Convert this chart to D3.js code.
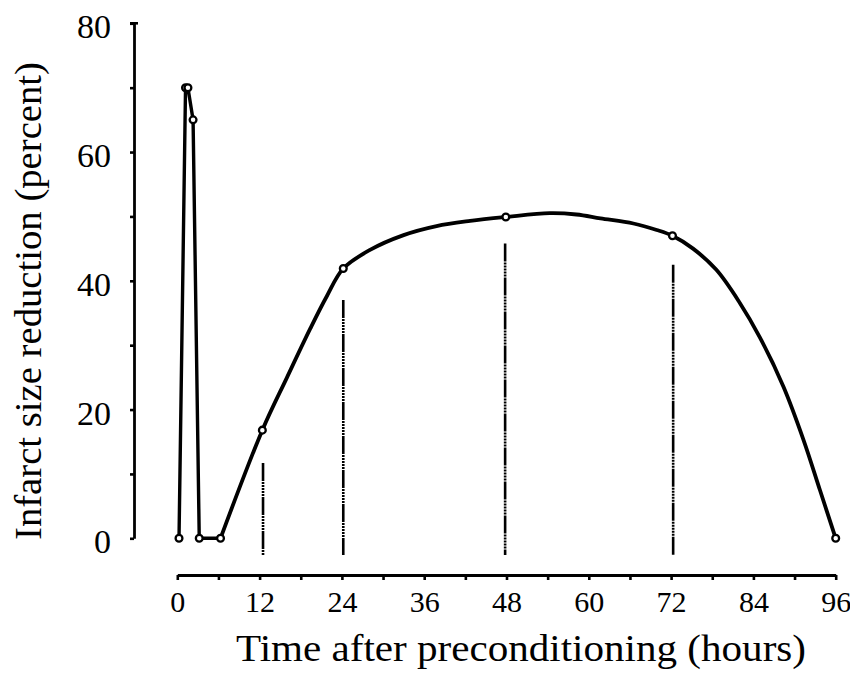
<!DOCTYPE html>
<html>
<head>
<meta charset="utf-8">
<script src="https://cdn.jsdelivr.net/npm/d3@7"></script>
<style>
  body { margin: 0; background: #fff; }
  svg { display: block; font-family: "Liberation Serif", "Times New Roman", serif; }
</style>
</head>
<body>
<div id="chart"></div>
<script>
// first hours: sharp early peak (straight segments)
var earlyHours = [0.25, 1.2, 1.55, 2.3, 3.2, 6.3];
var earlyValues = [0, 70, 70, 65, 0, 0];

// second window: smooth curve as drawn in the figure
var lateHours = [6.3, 12.4, 16, 19.4, 21.8, 24.2, 28.1, 33, 37.8, 42.7, 47.9, 54.3, 58.2, 61.7, 66.5, 69.9, 72.2, 75.2, 78.6, 82, 84.9, 88.4, 91.3, 93.7, 96];
var lateValues = [0, 16.8, 25, 32.6, 37.6, 41.9, 44.8, 47.1, 48.5, 49.3, 49.9, 50.5, 50.3, 49.7, 48.9, 47.9, 47, 45, 41.7, 36.6, 31.3, 23.5, 15.3, 7.5, 0];

// open circles on the late curve
var markHours = [12.4, 24.2, 47.9, 72.2, 96];
var markValues = [16.8, 41.9, 49.9, 47, 0];

// vertical dash-dot bars
var barHours = [12.5, 24.2, 47.8, 72.3];
var barTops = [11.7, 37, 45.8, 42.5];
var barBottom = -2.6;

var xTicks = d3.range(0, 97, 6);
var yTicks = d3.range(0, 81, 10);

var width = 850, height = 673;

var svg = d3.select("#chart").append("svg")
    .attr("width", width)
    .attr("height", height);

var x = d3.scaleLinear().domain([0, 96]).range([177.3, 835.7]);
var y = d3.scaleLinear().domain([0, 80]).range([538.3, 23.3]);

var xAxisY = 575, yAxisX = 134;

// x axis
var gx = svg.append("g")
    .attr("transform", "translate(0," + xAxisY + ")")
    .call(d3.axisBottom(x)
        .tickValues(xTicks)
        .tickSize(5)
        .tickSizeOuter(0)
        .tickFormat(d => d % 12 === 0 ? d : ""));
gx.select(".domain").attr("stroke-width", 3);
gx.selectAll(".tick line").attr("stroke-width", 2.6);
gx.selectAll(".tick text")
    .attr("y", 36.5).attr("dy", 0)
    .attr("font-size", 30).attr("font-family", "Liberation Serif").attr("fill", "#000");

// y axis
var gy = svg.append("g")
    .attr("transform", "translate(" + yAxisX + ",0)")
    .call(d3.axisLeft(y)
        .tickValues(yTicks)
        .tickSize(4)
        .tickSizeOuter(0)
        .tickFormat(d => d % 20 === 0 ? d : ""));
gy.select(".domain").attr("stroke-width", 2.8);
gy.selectAll(".tick line").attr("stroke-width", 2.6);
gy.selectAll(".tick text")
    .attr("x", -23).attr("dy", "0.43em")
    .attr("font-size", 34).attr("font-family", "Liberation Serif").attr("fill", "#000");

// cap on top of the y axis
svg.append("line")
    .attr("x1", yAxisX - 4).attr("x2", yAxisX + 4)
    .attr("y1", y(80)).attr("y2", y(80))
    .attr("stroke", "#000").attr("stroke-width", 2.6);

// axis titles
svg.append("text")
    .attr("x", 521).attr("y", 661)
    .attr("text-anchor", "middle")
    .attr("font-size", 37)
    .attr("textLength", 570)
    .attr("lengthAdjust", "spacingAndGlyphs")
    .text("Time after preconditioning (hours)");

svg.append("text")
    .attr("transform", "translate(41,301) rotate(-90)")
    .attr("text-anchor", "middle")
    .attr("font-size", 37)
    .attr("textLength", 478)
    .attr("lengthAdjust", "spacingAndGlyphs")
    .text("Infarct size reduction (percent)");

// dash-dot bars
svg.selectAll(".bar")
    .data(barHours)
    .enter().append("line")
    .attr("class", "bar")
    .attr("x1", d => x(d)).attr("x2", d => x(d))
    .attr("y1", (d, i) => y(barTops[i]))
    .attr("y2", y(barBottom))
    .attr("stroke", "#000")
    .attr("stroke-width", 2.6)
    .attr("stroke-dasharray", "18,1,2,1,2,1,2,1,2,1,2,1");

// curves
var early = earlyHours.map((h, i) => [h, earlyValues[i]]);
var late = lateHours.map((h, i) => [h, lateValues[i]]);

var lineEarly = d3.line().x(d => x(d[0])).y(d => y(d[1]));
var lineLate = d3.line().x(d => x(d[0])).y(d => y(d[1])).curve(d3.curveCatmullRom.alpha(0.5));

svg.append("path")
    .datum(early)
    .attr("d", lineEarly)
    .attr("fill", "none").attr("stroke", "#000")
    .attr("stroke-width", 3.4).attr("stroke-linejoin", "round");

svg.append("path")
    .datum(late)
    .attr("d", lineLate)
    .attr("fill", "none").attr("stroke", "#000")
    .attr("stroke-width", 3.8).attr("stroke-linejoin", "round");

// open circle markers
var marks = early.concat(markHours.map((h, i) => [h, markValues[i]]));
svg.selectAll(".mark")
    .data(marks)
    .enter().append("circle")
    .attr("class", "mark")
    .attr("cx", d => x(d[0]))
    .attr("cy", d => y(d[1]))
    .attr("r", 3.4)
    .attr("fill", "#fff")
    .attr("stroke", "#000")
    .attr("stroke-width", 2.3);
</script>
</body>
</html>
